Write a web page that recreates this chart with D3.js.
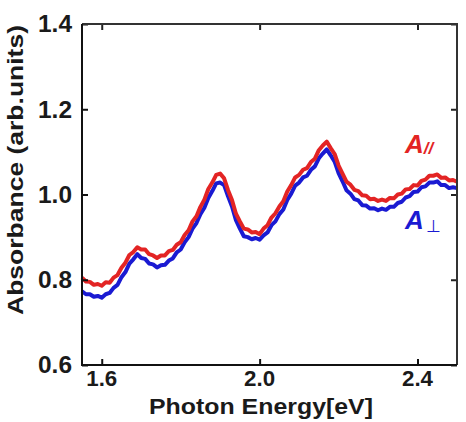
<!DOCTYPE html>
<html>
<head>
<meta charset="utf-8">
<script src="https://cdn.jsdelivr.net/npm/d3@7"></script>
<style>
  body { margin: 0; background: #fff; }
  svg { display: block; font-family: "Liberation Sans", Arial, sans-serif; }
</style>
</head>
<body>
<div id="chart"></div>
<script>
// photon energy (eV) sampled every 0.01
const energy = [
  1.55, 1.56, 1.57, 1.58, 1.59, 1.60, 1.61, 1.62, 1.63, 1.64,
  1.65, 1.66, 1.67, 1.68, 1.69, 1.70, 1.71, 1.72, 1.73, 1.74,
  1.75, 1.76, 1.77, 1.78, 1.79, 1.80, 1.81, 1.82, 1.83, 1.84,
  1.85, 1.86, 1.87, 1.88, 1.89, 1.90, 1.91, 1.92, 1.93, 1.94,
  1.95, 1.96, 1.97, 1.98, 1.99, 2.00, 2.01, 2.02, 2.03, 2.04,
  2.05, 2.06, 2.07, 2.08, 2.09, 2.10, 2.11, 2.12, 2.13, 2.14,
  2.15, 2.16, 2.17, 2.18, 2.19, 2.20, 2.21, 2.22, 2.23, 2.24,
  2.25, 2.26, 2.27, 2.28, 2.29, 2.30, 2.31, 2.32, 2.33, 2.34,
  2.35, 2.36, 2.37, 2.38, 2.39, 2.40, 2.41, 2.42, 2.43, 2.44,
  2.45, 2.46, 2.47, 2.48, 2.49, 2.50
];

// A parallel (red)
const absPar = [
  0.805, 0.796, 0.795, 0.788, 0.790, 0.786, 0.794, 0.793, 0.805, 0.811,
  0.828, 0.840, 0.858, 0.865, 0.876, 0.871, 0.871, 0.860, 0.857, 0.851,
  0.857, 0.857, 0.867, 0.870, 0.882, 0.888, 0.905, 0.916, 0.937, 0.949,
  0.971, 0.988, 1.013, 1.028, 1.046, 1.049, 1.038, 1.010, 0.987, 0.955,
  0.937, 0.920, 0.918, 0.911, 0.912, 0.907, 0.920, 0.928, 0.946, 0.956,
  0.972, 0.984, 1.007, 1.022, 1.040, 1.046, 1.058, 1.062, 1.076, 1.084,
  1.104, 1.115, 1.124, 1.109, 1.095, 1.068, 1.049, 1.030, 1.023, 1.011,
  1.008, 0.998, 0.997, 0.989, 0.990, 0.985, 0.988, 0.985, 0.992, 0.991,
  1.000, 1.002, 1.012, 1.013, 1.022, 1.021, 1.032, 1.035, 1.044, 1.044,
  1.047, 1.039, 1.040, 1.033, 1.034, 1.030
];

// A perpendicular (blue)
const absPerp = [
  0.773, 0.766, 0.766, 0.760, 0.762, 0.758, 0.766, 0.769, 0.781, 0.788,
  0.806, 0.818, 0.838, 0.848, 0.860, 0.851, 0.849, 0.838, 0.836, 0.829,
  0.834, 0.835, 0.845, 0.850, 0.864, 0.871, 0.888, 0.900, 0.920, 0.933,
  0.954, 0.969, 0.992, 1.008, 1.026, 1.028, 1.022, 0.996, 0.972, 0.940,
  0.920, 0.902, 0.900, 0.895, 0.898, 0.894, 0.904, 0.911, 0.928, 0.937,
  0.954, 0.965, 0.987, 1.002, 1.021, 1.028, 1.040, 1.044, 1.058, 1.066,
  1.085, 1.096, 1.106, 1.092, 1.077, 1.050, 1.031, 1.010, 1.002, 0.989,
  0.986, 0.975, 0.974, 0.967, 0.968, 0.963, 0.967, 0.964, 0.971, 0.971,
  0.980, 0.983, 0.993, 0.996, 1.006, 1.007, 1.017, 1.019, 1.028, 1.028,
  1.031, 1.022, 1.022, 1.015, 1.017, 1.015
];

const xTicks = [1.6, 2.0, 2.4];
const yTicks = [0.6, 0.8, 1.0, 1.2, 1.4];

const W = 466, H = 422;
const plot = { left: 82, right: 457, top: 24, bottom: 365 };

const svg = d3.select("#chart").append("svg")
  .attr("width", W)
  .attr("height", H);

const x = d3.scaleLinear().domain([1.55, 2.50]).range([plot.left, plot.right]);
const y = d3.scaleLinear().domain([0.6, 1.4]).range([plot.bottom, plot.top]);

// curves
const line = d3.line()
  .x((d, i) => x(energy[i]))
  .y(d => y(d));

svg.append("path")
  .datum(absPerp)
  .attr("d", line)
  .attr("fill", "none")
  .attr("stroke", "#1a1ad2")
  .attr("stroke-width", 4)
  .attr("stroke-linejoin", "round");

svg.append("path")
  .datum(absPar)
  .attr("d", line)
  .attr("fill", "none")
  .attr("stroke", "#e32424")
  .attr("stroke-width", 4)
  .attr("stroke-linejoin", "round");

// frame
const tickLen = 6;
svg.append("g")
  .attr("transform", `translate(0,${plot.bottom})`)
  .call(d3.axisBottom(x).tickValues(xTicks).tickSize(-tickLen).tickFormat(""))
  .call(g => g.select(".domain").remove())
  .selectAll("line").attr("stroke", "#111").attr("stroke-width", 2);

svg.append("g")
  .attr("transform", `translate(0,${plot.top})`)
  .call(d3.axisTop(x).tickValues(xTicks).tickSize(-tickLen).tickFormat(""))
  .call(g => g.select(".domain").remove())
  .selectAll("line").attr("stroke", "#222").attr("stroke-width", 2);

svg.append("g")
  .attr("transform", `translate(${plot.left},0)`)
  .call(d3.axisLeft(y).tickValues(yTicks).tickSize(-tickLen).tickFormat(""))
  .call(g => g.select(".domain").remove())
  .selectAll("line").attr("stroke", "#111").attr("stroke-width", 2);

svg.append("g")
  .attr("transform", `translate(${plot.right},0)`)
  .call(d3.axisRight(y).tickValues(yTicks).tickSize(-tickLen).tickFormat(""))
  .call(g => g.select(".domain").remove())
  .selectAll("line").attr("stroke", "#222").attr("stroke-width", 2);

svg.append("path")
  .attr("d", `M${plot.left},${plot.top}H${plot.right}V${plot.bottom}`)
  .attr("fill", "none").attr("stroke", "#333").attr("stroke-width", 2);
svg.append("path")
  .attr("d", `M${plot.left},${plot.top}V${plot.bottom}H${plot.right}`)
  .attr("fill", "none").attr("stroke", "#111").attr("stroke-width", 2);

// tick labels
svg.append("g").selectAll("text")
  .data(yTicks)
  .join("text")
    .attr("x", 72)
    .attr("y", d => y(d))
    .attr("dy", "0.36em")
    .attr("text-anchor", "end")
    .attr("font-size", 23)
    .attr("font-weight", "bold")
    .attr("fill", "#1a1a1a")
    .attr("textLength", 34)
    .attr("lengthAdjust", "spacingAndGlyphs")
    .text(d => d.toFixed(1));

svg.append("g").selectAll("text")
  .data(xTicks)
  .join("text")
    .attr("x", d => x(d))
    .attr("y", 386)
    .attr("text-anchor", "middle")
    .attr("font-size", 22)
    .attr("font-weight", "bold")
    .attr("fill", "#1a1a1a")
    .attr("textLength", 31)
    .attr("lengthAdjust", "spacingAndGlyphs")
    .text(d => d.toFixed(1));

// axis titles
svg.append("text")
  .attr("transform", "translate(23,170) rotate(-90)")
  .attr("text-anchor", "middle")
  .attr("font-size", 22)
  .attr("font-weight", "bold")
  .attr("fill", "#1a1a1a")
  .attr("textLength", 290)
  .attr("lengthAdjust", "spacingAndGlyphs")
  .text("Absorbance (arb.units)");

svg.append("text")
  .attr("x", 261)
  .attr("y", 414)
  .attr("text-anchor", "middle")
  .attr("font-size", 22)
  .attr("font-weight", "bold")
  .attr("fill", "#1a1a1a")
  .attr("textLength", 224)
  .attr("lengthAdjust", "spacingAndGlyphs")
  .text("Photon Energy[eV]");

// curve labels
const lab1 = svg.append("text")
  .attr("x", 405).attr("y", 153)
  .attr("font-size", 26).attr("font-weight", "bold").attr("font-style", "italic")
  .attr("fill", "#e32424");
lab1.append("tspan").text("A");
lab1.append("tspan").attr("font-size", 17).attr("dy", 1).text("//");

const lab2 = svg.append("text")
  .attr("x", 405).attr("y", 229)
  .attr("font-size", 26).attr("font-weight", "bold").attr("font-style", "italic")
  .attr("fill", "#1a1ad2");
lab2.append("tspan").text("A");
lab2.append("tspan").attr("font-size", 17).attr("font-style", "normal").attr("font-weight", "normal").attr("dx", 2).attr("dy", 3).text("⊥");
</script>
</body>
</html>
